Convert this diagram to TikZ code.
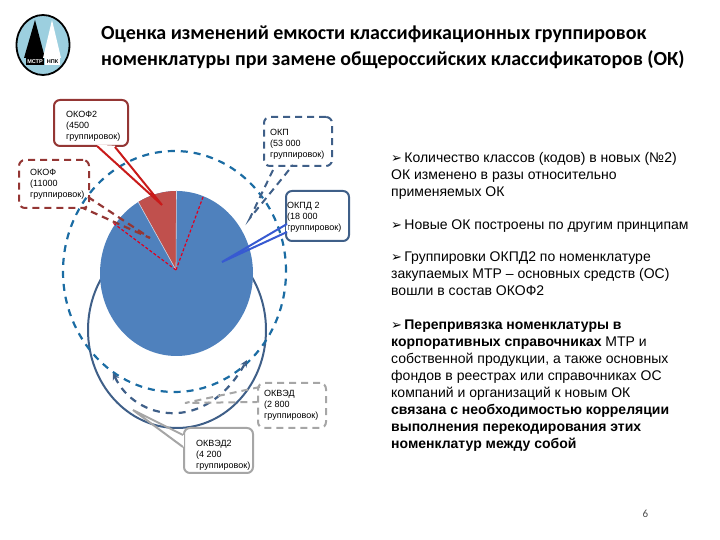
\documentclass[tikz,border=0pt]{standalone}
\usepackage{fontspec}
\setmainfont{Liberation Sans}
\newfontfamily\titlefont{Carlito}
\newfontfamily\symfont{DejaVu Sans}
\usetikzlibrary{positioning}
\usetikzlibrary{arrows.meta}
\definecolor{pieblue}{HTML}{4F81BD}
\definecolor{piered}{HTML}{C0504D}
\definecolor{darkred}{HTML}{943634}
\definecolor{darkblue}{HTML}{3F5F88}
\definecolor{tealblue}{HTML}{1B6CA3}
\definecolor{callgray}{HTML}{A6A6A6}
\definecolor{logoblue}{HTML}{9CCFDF}
\tikzset{
    box/.style={rounded corners=6pt,line width=2pt,inner sep=0pt},
    calltext/.style={font=\fontsize{9}{11.2}\selectfont,align=left,inner sep=0pt,anchor=west},
    bodytext/.style={font=\fontsize{14}{17}\selectfont,align=left,inner sep=0pt,anchor=north west},
    titletext/.style={font=\titlefont\bfseries\fontsize{20}{26}\selectfont,align=left,inner sep=0pt,anchor=north west},
    cutdash/.style={dash pattern=on 7pt off 6pt}
}
\newcommand{\bul}{{\symfont\fontsize{13}{13}\selectfont ➢}\,}
\begin{document}
\begin{tikzpicture}[x=1pt,y=1pt]
    \useasboundingbox (0,0) rectangle (720,540);

    % logo
    \draw[black,line width=1.8pt,fill=logoblue] (43,495) ellipse (26.5 and 30);
    \fill[black] (35,520) -- (24,482) -- (45,482) -- cycle;
    \fill[white] (52,520) -- (43,482) -- (61,482) -- cycle;
    \fill[black] (26,475) rectangle (44,482);
    \fill[white] (45,475) rectangle (60,482);
    \node[font=\bfseries\fontsize{5.5}{5.5}\selectfont,text=white,inner sep=0pt] (logoa) at (35,478.5) {МСТР};
    \node[font=\bfseries\fontsize{5.5}{5.5}\selectfont,text=black,inner sep=0pt] (logob) at (52.5,478.5) {НПК};

    % title
    \node[titletext] (title) at (101,514.5) {Оценка изменений емкости классификационных группировок\\номенклатуры при замене общероссийских классификаторов (ОК)};

    % solid ring and the pie over it
    \draw[darkblue,line width=2pt] (177,210) ellipse (89 and 98);
    \fill[pieblue] (176.5,266.5) ellipse (76.5 and 82.5);
    \fill[piered] (176,270) -- (176.5,349) arc[start angle=90,end angle=120,x radius=76.5,y radius=82.5] -- cycle;
    \draw[white!70!pieblue,line width=0.6pt] (176,270) -- (176.5,349);
    \draw[white!70!pieblue,line width=0.6pt] (176,270) -- (138.25,338);
    \draw[red!50!purple,line width=1.2pt,dash pattern=on 3pt off 2pt] (176,270) -- (203,343);
    \draw[red!50!purple,line width=1.2pt,dash pattern=on 3pt off 2pt] (176,270) -- (113,317);

    % dashed rings
    \draw[tealblue,line width=2.2pt,cutdash] (174.5,268.5) ellipse (111.5 and 120.5);
    \draw[darkblue,line width=2.2pt,cutdash,{Stealth[length=7pt,width=7pt]}-{Stealth[length=7pt,width=7pt]}] (113,167) .. controls (135,120) and (205,105) .. (247,180);

    % callouts
    \node[box,draw=darkred,fill=white,minimum width=74pt,minimum height=46pt] (okofb) at (91,417) {};
    \node[box,draw=darkred,dash pattern=on 7pt off 5pt,minimum width=70pt,minimum height=48pt] (okof) at (54,356) {};
    \node[box,draw=darkblue,dash pattern=on 7pt off 5pt,minimum width=68pt,minimum height=49pt] (okp) at (298,398.5) {};
    \node[box,draw=darkblue,fill=white,minimum width=63pt,minimum height=50pt] (okpd) at (317.5,324) {};
    \node[box,draw=callgray,dash pattern=on 7pt off 5pt,minimum width=68pt,minimum height=45pt] (okved) at (292,134.5) {};
    \node[box,draw=callgray,fill=white,minimum width=69pt,minimum height=45pt] (okvedb) at (218.5,89.5) {};

    \node[calltext,right=13pt of okofb.west,yshift=-3pt] (okofbtext) {ОКОФ2\\(4500\\группировок)};
    \node[calltext,right=12pt of okof.west] (okoftext) {ОКОФ\\(11000\\группировок)};
    \node[calltext,right=7pt of okp.west,yshift=-3pt] (okptext) {ОКП\\(53 000\\группировок)};
    \node[calltext,right=2pt of okpd.west,yshift=-1pt] (okpdtext) {ОКПД 2\\(18 000\\группировок)};
    \node[calltext,right=7pt of okved.west] (okvedtext) {ОКВЭД\\(2 800\\группировок)};
    \node[calltext,right=13pt of okvedb.west,yshift=-5pt] (okvedbtext) {ОКВЭД2\\(4 200\\группировок)};

    % callout pointers
    \coordinate (okofbl) at (97,394);
    \coordinate (okofbr) at (115,393);
    \coordinate (okofbtip) at (162,335);
    \draw[white,line width=2.6pt] (okofbl) -- (okofbr);
    \draw[darkred!50!red,line width=2pt,line join=miter] (okofbl) -- (okofbtip) -- (okofbr);

    \coordinate (okofl) at (88,343);
    \coordinate (okofr) at (83,332);
    \coordinate (okoftip) at (150,302);
    \draw[darkred,line width=2.2pt,dash pattern=on 7pt off 5pt] (okofl) -- (okoftip) -- (okofr);

    \coordinate (okpl) at (273,370);
    \coordinate (okpr) at (293,375);
    \coordinate (okptip) at (250,322);
    \draw[darkblue,line width=2pt,dash pattern=on 7pt off 5pt] (okpl) -- (okptip) -- (okpr);

    \coordinate (okpdl) at (287,316);
    \coordinate (okpdr) at (287,308);
    \coordinate (okpdtip) at (222,278);
    \draw[white,line width=2.6pt] (okpdl) -- (okpdr);
    \draw[pieblue!70!blue,line width=2pt,line join=miter] (okpdl) -- (okpdtip) -- (okpdr);

    \coordinate (okvedl) at (260,153);
    \coordinate (okvedr) at (257,138);
    \coordinate (okvedtip) at (185,137);
    \draw[callgray,line width=2pt,dash pattern=on 7pt off 5pt] (okvedl) -- (okvedtip) -- (okvedr);

    \coordinate (okvedbl) at (183,105);
    \coordinate (okvedbr) at (183,93);
    \coordinate (okvedbtip) at (133,130);
    \draw[white,line width=2.6pt] (okvedbl) -- (okvedbr);
    \draw[callgray,line width=2pt,line join=miter] (okvedbl) -- (okvedbtip) -- (okvedbr);

    % text at right
    \node[bodytext] (parta) at (391,388) {\bul Количество  классов (кодов) в новых (№2)\\ОК  изменено в разы относительно\\применяемых ОК};
    \node[bodytext] (partb) at (391,320) {\bul Новые ОК построены по другим принципам};
    \node[bodytext] (partc) at (391,288) {\bul Группировки ОКПД2 по номенклатуре\\закупаемых МТР -- основных средств (ОС)\\вошли в состав ОКОФ2};
    \node[bodytext] (partd) at (391,220.5) {\bul \textbf{Перепривязка номенклатуры в}\\\textbf{корпоративных справочниках} МТР и\\собственной продукции, а также основных\\фондов в реестрах или справочниках  ОС\\компаний и организаций к новым ОК\\\textbf{связана с необходимостью корреляции}\\\textbf{выполнения перекодирования этих}\\\textbf{номенклатур между собой}};

    \node[font=\titlefont\fontsize{11}{11}\selectfont,text=black!70,inner sep=0pt] (pagenum) at (645.5,26) {6};
\end{tikzpicture}
\end{document}
